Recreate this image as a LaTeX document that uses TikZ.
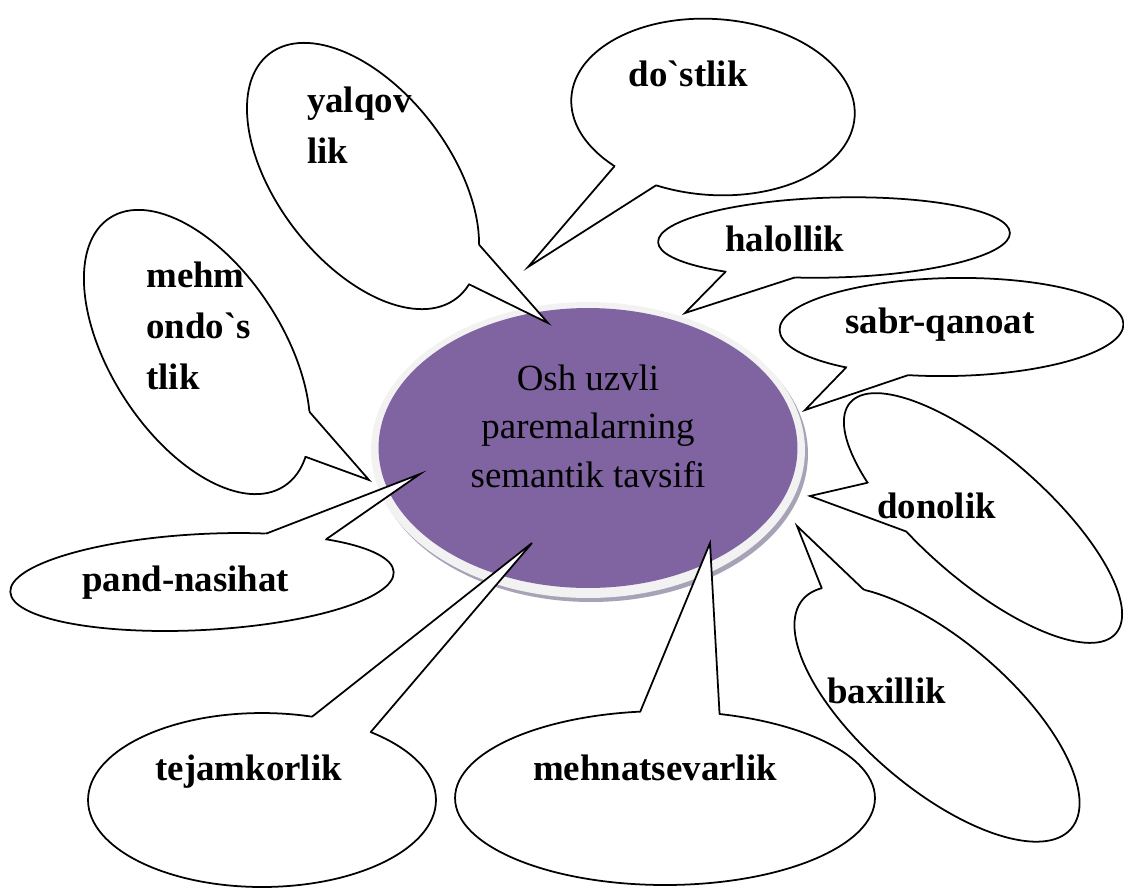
\documentclass[tikz,border=0pt]{standalone}
\usepackage{fontspec}
\setmainfont{Liberation Serif}[Ligatures=TeXOff]
\usetikzlibrary{shapes.geometric}

\definecolor{corepurple}{HTML}{8064A2}
\definecolor{ringgray}{HTML}{F2F2F2}
\definecolor{shadowgray}{RGB}{168,162,182}

\tikzset{
  bubble/.style={ellipse, draw, fill=white, line width=1pt, inner sep=0pt, outer sep=0pt},
  pointer/.style={line width=1pt, line join=miter},
  tag/.style={anchor=base west, inner sep=0pt, align=left,
    font=\fontsize{21}{29}\selectfont\bfseries},
}

% wedge of a speech bubble: node, two border angles, tip
\newcommand{\bubblepointer}[4]{%
  \fill[white] (#1.#2) -- (#4) -- (#1.#3) -- (#1.center) -- cycle;
  \draw[pointer] (#1.#2) -- (#4) -- (#1.#3);}

\begin{document}
\begin{tikzpicture}[x=0.02cm, y=-0.02cm, line cap=round, line join=round]
  \useasboundingbox (0,0) rectangle (1124,887);

  % centre
  \node[ellipse, fill=shadowgray, inner sep=0pt, minimum width=8.68cm, minimum height=5.92cm] (shadow) at (591,454) {};
  \node[ellipse, fill=ringgray, inner sep=0pt, minimum width=8.68cm, minimum height=5.92cm] (ring) at (588,450) {};
  \node[ellipse, fill=corepurple, inner sep=0pt, minimum width=8.38cm, minimum height=5.6cm] (core) at (588,448) {};
  \node[anchor=base, inner sep=0pt, align=center, font=\fontsize{21}{27.5}\selectfont] (title) at (588,487)
    {Osh uzvli\\paremalarning\\semantik tavsifi};

  % bubbles
  \node[bubble, rotate=-52.6, minimum width=6.16cm, minimum height=3.46cm] (yalqov) at (363,176) {};
  \coordinate (yalqovtip) at (548,323);
  \bubblepointer{yalqov}{22}{7}{yalqovtip}

  \node[bubble, rotate=-57, minimum width=6.4cm, minimum height=3.44cm] (mehmon) at (197,352) {};
  \coordinate (mehmontip) at (369,480);
  \bubblepointer{mehmon}{29}{13}{mehmontip}

  \node[bubble, rotate=-4, minimum width=5.68cm, minimum height=3.52cm] (dostlik) at (713,107) {};
  \coordinate (dostliktip) at (528,267);
  \bubblepointer{dostlik}{-145}{-122}{dostliktip}

  \node[bubble, rotate=1.5, minimum width=7.04cm, minimum height=1.6cm] (halol) at (834,237.5) {};
  \coordinate (haloltip) at (685,313);
  \bubblepointer{halol}{-164}{-136}{haloltip}

  \node[bubble, rotate=1, minimum width=6.88cm, minimum height=1.96cm] (sabr) at (951.5,327) {};
  \coordinate (sabrtip) at (805,410);
  \bubblepointer{sabr}{-160}{-133}{sabrtip}

  \node[bubble, rotate=-41, minimum width=7.04cm, minimum height=2.52cm] (dono) at (983,518) {};
  \coordinate (donotip) at (810,496);
  \bubblepointer{dono}{-156}{-129}{donotip}

  \node[bubble, rotate=-40.5, minimum width=7.06cm, minimum height=2.96cm] (baxil) at (937,714) {};
  \coordinate (baxiltip) at (797,526);
  \bubblepointer{baxil}{173}{161}{baxiltip}

  \node[bubble, minimum width=8.4cm, minimum height=3.48cm] (mehnat) at (665,798) {};
  \coordinate (mehnattip) at (710,543);
  \bubblepointer{mehnat}{106}{57}{mehnattip}

  \node[bubble, minimum width=6.96cm, minimum height=3.48cm] (tejam) at (262,800) {};
  \coordinate (tejamtip) at (532,543);
  \bubblepointer{tejam}{59}{32}{tejamtip}

  \node[bubble, rotate=3, minimum width=7.68cm, minimum height=1.92cm] (pand) at (202,582) {};
  \coordinate (pandtip) at (420,474);
  \bubblepointer{pand}{34}{16}{pandtip}

  % words
  \node[tag] (yalqovtext) at (306.7,163.3) {yalqov\\lik};
  \node[tag] (mehmontext) at (146,389.3) {mehm\\ondo`s\\tlik};
  \node[tag] (dostliktext) at (628.3,86.7) {do`stlik};
  \node[tag] (haloltext) at (725,251.7) {halollik};
  \node[tag] (sabrtext) at (845,333.3) {sabr-qanoat};
  \node[tag] (donotext) at (876.7,518.3) {donolik};
  \node[tag] (baxiltext) at (826.7,703.3) {baxillik};
  \node[tag] (mehnattext) at (532.7,780) {mehnatsevarlik};
  \node[tag] (tejamtext) at (155,780) {tejamkorlik};
  \node[tag] (pandtext) at (81.7,591.7) {pand-nasihat};
\end{tikzpicture}
\end{document}
